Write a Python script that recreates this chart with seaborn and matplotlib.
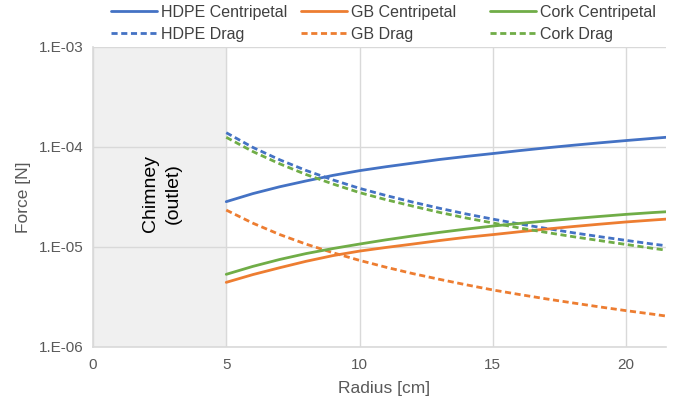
import numpy as np
import pandas as pd
import matplotlib
matplotlib.use("Agg")
import matplotlib.pyplot as plt
import seaborn as sns
from matplotlib.ticker import FixedLocator, FuncFormatter

# valeurs (rayon en cm, force en N)
radius = [5, 6, 7, 8, 9, 10, 11, 12, 13, 14, 15, 16, 17, 18, 19, 20, 21, 21.5]
hdpe_centripetal = [2.84e-5, 3.42e-5, 4.0e-5, 4.58e-5, 5.2e-5, 5.8e-5, 6.35e-5, 6.9e-5, 7.5e-5,
                    8.05e-5, 8.6e-5, 9.2e-5, 9.8e-5, 1.04e-4, 1.1e-4, 1.16e-4, 1.22e-4, 1.25e-4]
gb_centripetal = [4.43e-6, 5.3e-6, 6.2e-6, 7.2e-6, 8.2e-6, 9.1e-6, 9.9e-6, 1.07e-5, 1.16e-5,
                  1.25e-5, 1.33e-5, 1.42e-5, 1.51e-5, 1.6e-5, 1.69e-5, 1.78e-5, 1.86e-5, 1.9e-5]
cork_centripetal = [5.33e-6, 6.4e-6, 7.5e-6, 8.6e-6, 9.65e-6, 1.07e-5, 1.18e-5, 1.29e-5, 1.4e-5,
                    1.51e-5, 1.62e-5, 1.72e-5, 1.82e-5, 1.92e-5, 2.02e-5, 2.12e-5, 2.21e-5, 2.25e-5]
hdpe_drag = [1.39e-4, 9.9e-5, 7.46e-5, 5.82e-5, 4.69e-5, 3.86e-5, 3.27e-5, 2.81e-5, 2.44e-5,
             2.14e-5, 1.9e-5, 1.7e-5, 1.535e-5, 1.39e-5, 1.27e-5, 1.165e-5, 1.07e-5, 1.03e-5]
gb_drag = [2.34e-5, 1.73e-5, 1.334e-5, 1.067e-5, 8.77e-6, 7.35e-6, 6.27e-6, 5.42e-6, 4.75e-6,
           4.19e-6, 3.72e-6, 3.35e-6, 3.03e-6, 2.76e-6, 2.52e-6, 2.31e-6, 2.13e-6, 2.04e-6]
cork_drag = [1.25e-4, 9.0e-5, 6.8e-5, 5.3e-5, 4.27e-5, 3.5e-5, 2.97e-5, 2.56e-5, 2.22e-5,
             1.95e-5, 1.74e-5, 1.55e-5, 1.4e-5, 1.27e-5, 1.16e-5, 1.06e-5, 9.7e-6, 9.3e-6]

materiaux = [
    ("HDPE", hdpe_centripetal, hdpe_drag, "#4472C4"),
    ("GB", gb_centripetal, gb_drag, "#ED7D31"),
    ("Cork", cork_centripetal, cork_drag, "#70AD47"),
]

sns.set_style("white")
plt.rcParams['font.family'] = ['Liberation Sans', 'DejaVu Sans']

W, H = 675, 399
fig = plt.figure(figsize=(W / 100, H / 100), dpi=100)
ax = fig.add_axes([93 / W, 1 - 347 / H, 573 / W, 300 / H])

# zone de la cheminée
ax.axvspan(0, 5, color="#F0F0F0", zorder=0)

handles = []
for nom, centri, drag, couleur in materiaux:
    df_c = pd.DataFrame({"r": radius, "F": centri})
    df_d = pd.DataFrame({"r": radius, "F": drag})
    sns.lineplot(data=df_c, x="r", y="F", ax=ax, color=couleur, linewidth=2, zorder=3)
    l_c = ax.get_lines()[-1]
    sns.lineplot(data=df_d, x="r", y="F", ax=ax, color=couleur, linewidth=2, zorder=3)
    l_d = ax.get_lines()[-1]
    l_d.set_dashes([2.2, 1.3])
    handles.append((nom, l_c, l_d))

ax.set_yscale("log")
ax.set_xlim(0, 21.5)
ax.set_ylim(1e-6, 1e-3)
ax.xaxis.set_major_locator(FixedLocator([0, 5, 10, 15, 20]))
ax.yaxis.set_major_locator(FixedLocator([1e-6, 1e-5, 1e-4, 1e-3]))
ax.yaxis.set_minor_locator(FixedLocator([]))
ax.yaxis.set_major_formatter(FuncFormatter(lambda v, p: "1.E%+03d" % int(round(np.log10(v)))))
ax.grid(True, color="#D9D9D9", linewidth=1)
ax.set_axisbelow(True)
for s in ["top", "right"]:
    ax.spines[s].set_visible(False)
for s in ["left", "bottom"]:
    ax.spines[s].set_color("#D9D9D9")
    ax.spines[s].set_linewidth(1.2)
ax.tick_params(axis="both", length=0, labelsize=11, labelcolor="#595959")
ax.tick_params(axis="x", pad=8)
ax.tick_params(axis="y", pad=7)

ax.set_xlabel("Radius [cm]", fontsize=12.5, color="#595959")
ax.set_ylabel("Force [N]", fontsize=12.5, color="#595959")
ax.xaxis.set_label_coords(0.508, -0.113)
ax.yaxis.set_label_coords(-0.108, 0.5)

ax.text(2.59, 10 ** -4.47, "Chimney\n(outlet)", rotation=90, ha="center", va="center",
        fontsize=14, color="black", linespacing=1.45)

# légende : une colonne par matériau
x_cols = [111, 301, 490]
for (nom, l_c, l_d), xc in zip(handles, x_cols):
    leg = fig.legend([l_c, l_d], [nom + " Centripetal", nom + " Drag"], loc="upper left",
                     bbox_to_anchor=(xc / W, 1 - 5 / H), frameon=False, fontsize=11.5,
                     handlelength=2.85, handletextpad=0.3, labelspacing=0.42,
                     borderpad=0, borderaxespad=0)
    for t in leg.get_texts():
        t.set_color("#404040")

fig.savefig("out.png", dpi=100)
